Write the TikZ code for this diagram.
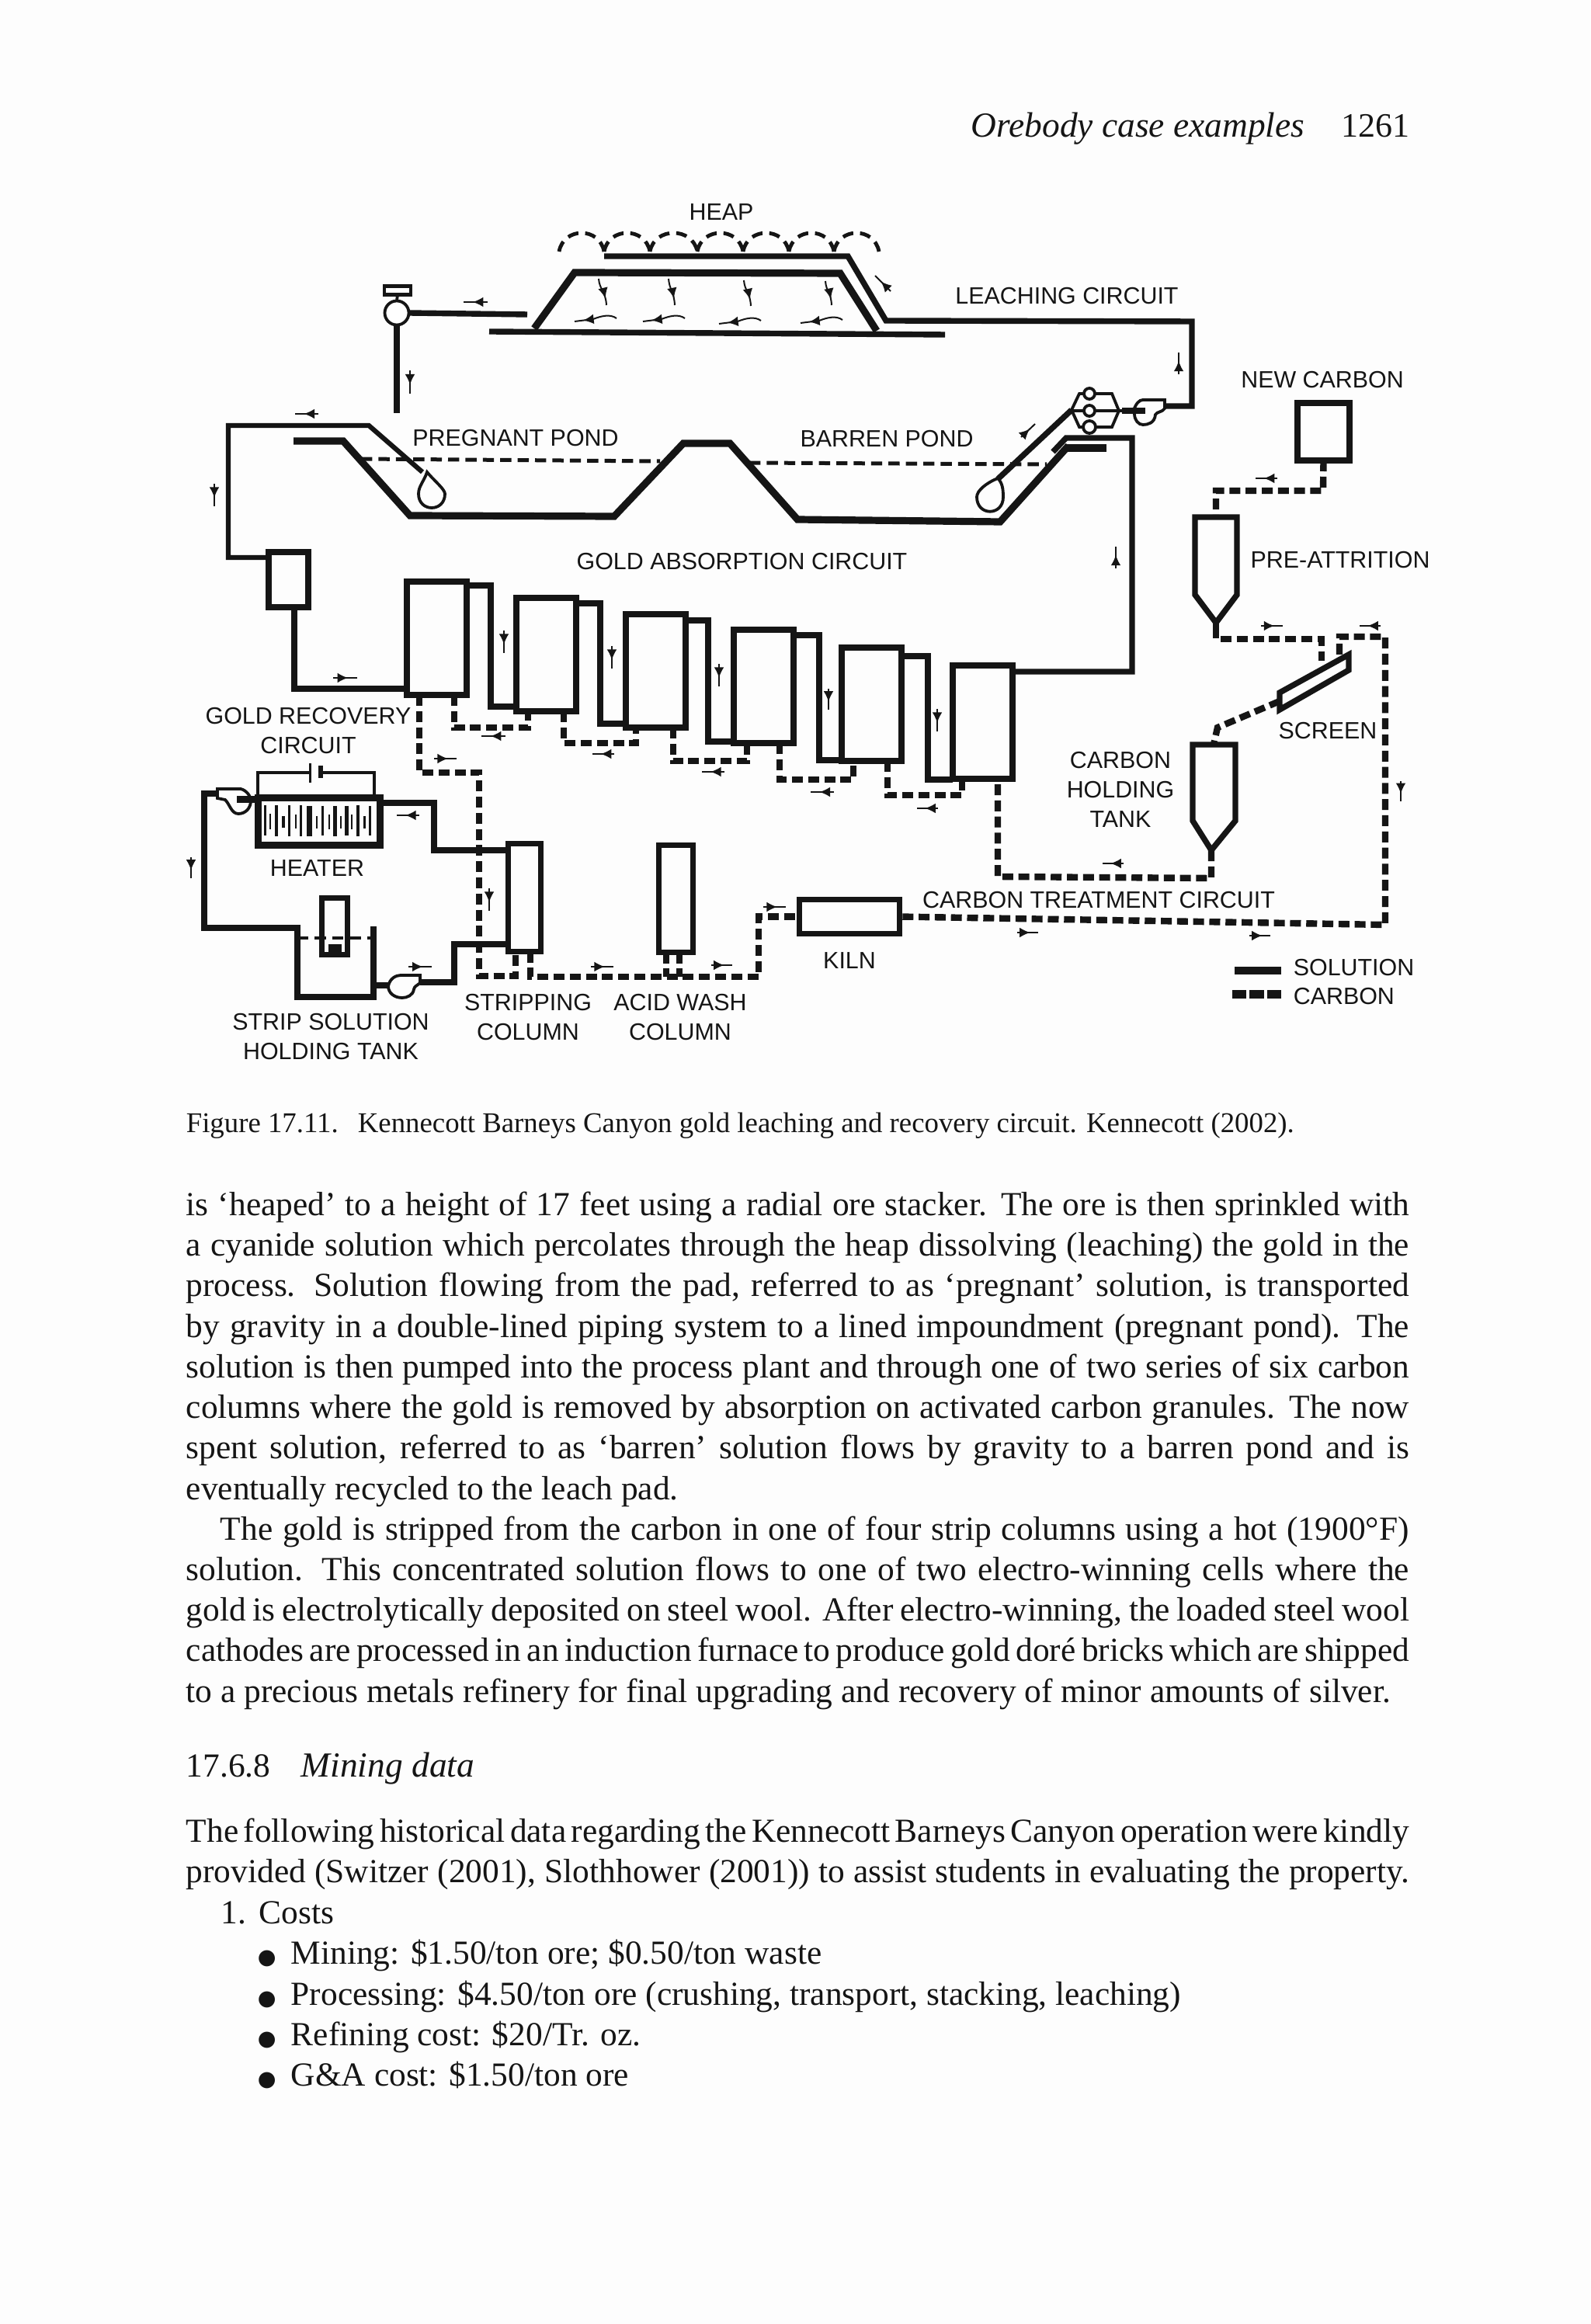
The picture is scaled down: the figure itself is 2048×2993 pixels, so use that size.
\documentclass[tikz,border=0pt]{standalone}
\usepackage{fontspec}
\setmainfont{Liberation Serif}
\setsansfont{Liberation Sans}
\newfontfamily\dotfont{DejaVu Sans}
\usetikzlibrary{arrows.meta,decorations.markings}
\definecolor{ink}{HTML}{151515}
\definecolor{paper}{HTML}{FDFDFD}
\newcommand{\fitline}[2]{\makebox[#1][s]{\spaceskip=.25em plus .4em minus .2em\relax#2}}
\newcommand{\bigdot}{{\dotfont\fontsize{6.8}{13}\selectfont ●}}
\tikzset{
  solution/.style={draw=ink,line width=1.85pt},
  carbon/.style={draw=ink,line width=2.1pt,dash pattern=on 3.5pt off 1.7pt},
  heapline/.style={draw=ink,line width=2.3pt},
  spray/.style={draw=ink,line width=1.2pt,dash pattern=on 3.5pt off 2.2pt},
  pondlevel/.style={draw=ink,line width=1.25pt,dash pattern=on 3.6pt off 2pt},
  pumpline/.style={draw=ink,line width=.95pt},
  tank/.style={draw=ink,line width=#1,inner sep=0,outer sep=0},
  tank/.default=2pt,
  tanksize/.style 2 args={minimum width=#1*.25pt,minimum height=#2*.25pt},
  valve/.style={circle,draw=ink,line width=.95pt,fill=white,inner sep=0,outer sep=0,minimum size=#1*.25pt},
  flowmark/.style={draw=ink,line width=.5pt,postaction={decorate},
    decoration={markings,mark=at position #1 with {\arrow[ink]{Latex[length=3.4pt,width=3.2pt]}}}},
  flowmark/.default=.62,
  lbl/.style={inner sep=0,text=ink,yshift=-.35pt,font=\sffamily\fontsize{7.6}{9.5}\selectfont,align=center},
  bodyline/.style={anchor=base west,inner sep=0,text=ink,font=\fontsize{10.85}{13}\selectfont},
  italicline/.style={bodyline,font=\fontsize{11.35}{13}\selectfont\itshape},
}
\begin{document}
\begin{tikzpicture}[x=.25pt,y=-.25pt]
  \useasboundingbox (0,0) rectangle (2048,2993);
  \fill[paper] (0,0) rectangle (2048,2993);

  \node[italicline] (running) at (1250,177) {Orebody case examples};
  \node[bodyline,font=\fontsize{11}{13}\selectfont,anchor=base east] (folio) at (1816,177) {1261};

  \foreach \a/\b in {720/778,778/837,837/898,898/957,957/1016,1016/1074,1074/1132}
    \draw[spray] (\a,324) .. controls (\a+6,292) and (\b-6,292) .. (\b,324);
  \draw[solution] (778,330) -- (1092,330) -- (1141,413) -- (1535,414) -- (1535,523) -- (1500,523);
  \draw[heapline] (688,423) -- (740,351) -- (1082,352) -- (1129,426);
  \draw[solution] (630,427) -- (1217,431);
  \foreach \ax/\ay/\bx/\by in {771/359/781/393,861/359/869/393,958/361/967/394,1063/362/1071/393}
    \draw[flowmark=.75] (\ax,\ay) .. controls (\ax+1,\ay+14) and (\bx-1,\by-18) .. (\bx,\by);
  \foreach \x/\y in {794/410,882/410,980/413,1085/412}
    \draw[flowmark=.8] (\x,\y) .. controls (\x-8,\y-6) and (\x-20,\y-3) .. (\x-30,\y+1) -- (\x-54,\y+4);

  \node[valve=31] (inlet) at (511,403) {};
  \node[tank=1.1pt,tanksize={34}{11},fill=white] (gauge) at (512,374) {};
  \draw[pumpline] (gauge.south) -- (inlet.north);
  \draw[solution] (inlet.east) -- (679,405);
  \draw[solution] (inlet.south) -- (511,532);

  \node[tank,tanksize={51}{71}] (goldbox) at (371.5,746.5) {};
  \draw[solution,line width=1.55pt] (goldbox.west |- 0,718) -- (294,718) -- (294,548) -- (475,548) -- (544,608);
  \draw[pumpline] (550,608) .. controls (558,618) and (573,630) .. (573,636)
    .. controls (573,660) and (539,660) .. (539,636) .. controls (539,626) and (546,620) .. (550,608) -- cycle;
  \draw[heapline] (378,568) -- (442,568) -- (528,664) -- (791,665) -- (880,571) -- (940,571)
    -- (1027,669) -- (1288,672) -- (1376,574);
  \draw[heapline] (1374,577) -- (1425,577);
  \draw[pondlevel] (465,591) -- (850,594);
  \draw[pondlevel] (965,596) -- (1348,598);

  \draw[pumpline] (1285,616) .. controls (1291,622) and (1292,630) .. (1292,640)
    .. controls (1292,665) and (1258,665) .. (1258,640) .. controls (1258,632) and (1270,622) .. (1285,616) -- cycle;
  \draw[solution] (1285,617) -- (1380,528);
  \draw[pumpline] (1380,528) -- (1390,507) -- (1432,507) -- (1441,529) -- (1432,550) -- (1390,550) -- cycle;
  \draw[draw=ink,line width=1.2pt] (1380,529) -- (1445,529);
  \draw[solution] (1445,529) -- (1475,529);
  \node[valve=14] (branch1) at (1403,507) {};
  \node[valve=14] (branch2) at (1403,529) {};
  \node[valve=16] (branch3) at (1403,550) {};
  \draw[pumpline] (1460,528) .. controls (1463,520) and (1467,515) .. (1472,515) -- (1500,515) -- (1500,526)
    .. controls (1497,531) and (1490,530) .. (1488,534) .. controls (1487,545) and (1478,547) .. (1472,547)
    .. controls (1466,547) and (1461,541) .. (1461,533) -- cycle;

  \foreach \name/\cx/\cy in {col1/562/822,col2/703/843.5,col3/844/864,col4/983.5/884.5,col5/1122.5/907.5,col6/1265/930.5}
    \node[tank,tanksize={77}{146}] (\name) at (\cx,\cy) {};
  \draw[solution] (379,0 |- goldbox.south) |- (col1.west |- 0,887);
  \foreach \a/\b/\x/\ya/\yb in {col1/col2/632/754/910,col2/col3/773/777/932,col3/col4/912/799/955,col4/col5/1055/818/979,col5/col6/1195/845/1004}
    \draw[solution] (\a.east |- 0,\ya) -- (\x,\ya) -- (\x,\yb) -- (\b.west |- 0,\yb);
  \draw[solution] (col6.east |- 0,865) -- (1458,865) -- (1458,564) -- (1373,564) -- (1356,582);

  \foreach \a/\b/\ax/\bx/\y in {col1/col2/585/680/937,col2/col3/726/819/957,col3/col4/867/962/980,col4/col5/1004/1099/1004,col5/col6/1143/1239/1024}
    \draw[carbon] (\ax,0 |- \a.south) |- (\bx,\y) -- (\bx,0 |- \b.south);

  \node[tank=2.25pt,tanksize={157}{61}] (heater) at (410.5,1058) {};
  \foreach \x/\ya/\yb/\w in {341.7/1037/1076/2.7,348.3/1048/1068/2,356/1037/1077/4,365/1051/1066/4,372.7/1037/1077/2.7,381/1049/1067/2,387.3/1037/1077/2.7,398.3/1038/1077/6.7,408.3/1051/1067/2,415.7/1038/1076/2.7,424/1049/1068/2.7,431.7/1038/1077/5.3,439.3/1051/1067/2,446.7/1038/1076/5.3,453.3/1049/1068/2,460.7/1037/1077/4,469.3/1051/1067/3.3,476.7/1038/1076/2.7}
    \draw[draw=ink,line width=\w*.25pt] (\x,\ya) -- (\x,\yb);
  \draw[draw=ink,line width=1.1pt] (heater.north west) |- (399,995);
  \draw[draw=ink,line width=1.1pt] (413,995) -| (482,0 |- heater.north);
  \draw[draw=ink,line width=.75pt] (399,983) -- (399,1008);
  \draw[draw=ink,line width=1.5pt] (413,986) -- (413,1002);
  \draw[pumpline] (280,1016) -- (310,1016) .. controls (318,1018) and (323,1026) .. (323,1031)
    .. controls (323,1041) and (316,1048) .. (307,1048) .. controls (298,1048) and (296,1036) .. (290,1030)
    -- (280,1028) -- cycle;
  \draw[draw=ink,line width=2.25pt] (305,1030) -- (heater.west |- 0,1030);

  \node[tank=1.85pt,tanksize={42}{139}] (stripcol) at (675.5,1156) {};
  \node[tank=1.85pt,tanksize={44}{138}] (acidcol) at (870.5,1157.5) {};
  \node[tank=1.85pt,tanksize={129}{44}] (kiln) at (1094,1180.5) {};
  \node[tank=1.85pt,tanksize={33}{73}] (stripbox) at (431,1193) {};
  \fill[ink] (423,1216) rectangle (440,1233);

  \draw[solution] (heater.east |- 0,1034) -- (559,1034) -- (559,1095) -- (stripcol.west |- 0,1095);
  \draw[solution] (280,1022) -- (263,1022) -- (263,1195) -- (383,1195) -- (383,1284) -- (481,1284) -- (481,1193);
  \draw[pondlevel,line width=1.1pt] (383,1208) -- (480,1208);
  \draw[solution] (481,1269) -- (500,1269);
  \draw[pumpline] (500,1270) .. controls (502,1260) and (510,1256) .. (516,1256) -- (541,1256) -- (541,1266)
    .. controls (536,1270) and (534,1270) .. (533,1274) .. controls (532,1282) and (524,1285) .. (518,1285)
    .. controls (508,1285) and (500,1279) .. (500,1270) -- cycle;
  \draw[solution] (541,1265) -- (585,1265) -- (585,1216) -- (stripcol.west |- 0,1216);

  \draw[carbon] (540,0 |- col1.south) |- (617,995) |- (664,1257) -- (664,0 |- stripcol.south);
  \draw[carbon] (683,0 |- stripcol.south) |- (977,1258) |- (kiln.west);
  \draw[carbon] (858,0 |- acidcol.south) -- (858,1258);
  \draw[carbon] (875,0 |- acidcol.south) -- (875,1258);

  \node[tank,tanksize={67}{74}] (newcarbon) at (1704.5,556) {};
  \coordinate (pretop) at (1566,666);
  \coordinate (pretip) at (1566,802);
  \draw[tank=1.85pt] (1539,666) -- (1593,666) -- (1593,766) -- (pretip) -- (1539,766) -- cycle;
  \draw[carbon] (newcarbon.south) -- (1704,632) -- (1566,632) -- (pretop);
  \draw[solution,line width=2pt] (pretip) -- (1566,822);
  \draw[carbon] (1572,823) -- (1702,823) -- (1702,851);
  \coordinate (screenlow) at (1648,903);
  \draw[tank=1.85pt] (1648,892) -- (1737,843) -- (1737,863) -- (1648,914) -- cycle;
  \draw[carbon] (1725,843) -- (1725,820) -- (1784,820) -- (1784,1191) -- (kiln.east);

  \coordinate (holdtop) at (1563,959);
  \coordinate (holdtip) at (1560,1095);
  \draw[tank=1.85pt] (1536,959) -- (1591,959) -- (1591,1057) -- (holdtip) -- (1536,1057) -- cycle;
  \draw[carbon] (screenlow) -- (1568,937) -- (holdtop);
  \draw[carbon] (holdtip) -- (1560,1131) -- (1285,1129) -- (1285,0 |- col6.south);

  \foreach \ax/\ay/\bx/\by in {628/389/597/389,528/477/528/507,410/533/380/533,276/623/276/652,1518/482/1518/454,1437/732/1437/704,1315/563/1333/546,1147/375/1127/355,1645/616/1617/616,1624/806/1652/806,1778/806/1751/806,1804/1006/1804/1032,1310/1201/1337/1201,1609/1205/1636/1205,1447/1112/1420/1112,429/873/460/873,649/812/649/841,788/832/788/861,926/855/926/884,1067/887/1067/914,1207/913/1207/942,559/977/588/977,651/948/620/948,791/971/763/971,933/994/904/994,1074/1020/1044/1020,1208/1041/1181/1041,540/1050/511/1050,246/1104/246/1131,526/1245/556/1245,630/1144/630/1173,761/1245/790/1245,916/1243/943/1243,983/1168/1012/1168}
    \draw[flowmark] (\ax,\ay) -- (\bx,\by);

  \node[lbl] (heap) at (929,272) {HEAP};
  \node[lbl] (leaching) at (1374,380) {LEACHING CIRCUIT};
  \node[lbl] (newlabel) at (1703,488) {NEW CARBON};
  \node[lbl] (pregnant) at (664,563) {PREGNANT POND};
  \node[lbl] (barren) at (1142,564) {BARREN POND};
  \node[lbl] (absorption) at (955.5,722) {GOLD ABSORPTION CIRCUIT};
  \node[lbl] (attrition) at (1726,720) {PRE-ATTRITION};
  \node[lbl] (recovery) at (397,940) {GOLD RECOVERY\\CIRCUIT};
  \node[lbl] (screen) at (1710,940) {SCREEN};
  \node[lbl] (holding) at (1443,1015) {CARBON\\HOLDING\\TANK};
  \node[lbl] (heatlabel) at (408.5,1117) {HEATER};
  \node[lbl] (treatment) at (1415,1158) {CARBON TREATMENT CIRCUIT};
  \node[lbl] (kilnlabel) at (1094,1236) {KILN};
  \node[lbl] (striptank) at (426,1334) {STRIP SOLUTION\\HOLDING TANK};
  \node[lbl] (stripping) at (680,1309) {STRIPPING\\COLUMN};
  \node[lbl] (acidwash) at (876,1309) {ACID WASH\\COLUMN};
  \node[lbl,anchor=west] (legsolution) at (1665,1245) {SOLUTION};
  \node[lbl,anchor=west] (legcarbon) at (1665,1282) {CARBON};
  \draw[solution,line width=2.5pt] (1590,1250) -- (1650,1250);
  \draw[carbon,line width=2.75pt,dash pattern=on 4.6pt off 1pt] (1587,1280) -- (1650,1280);

  \node[bodyline,font=\fontsize{9.2}{11}\selectfont] (caption) at (239,1458)
    {Figure 17.11.\hspace{6.3pt}Kennecott Barneys Canyon gold leaching and recovery circuit. Kennecott (2002).};

  \foreach \n/\y/\t in {1/1565/{is ‘heaped’ to a height of 17 feet using a radial ore stacker. The ore is then sprinkled with},
    2/1617.3/{a cyanide solution which percolates through the heap dissolving (leaching) the gold in the},
    3/1669.6/{process. Solution flowing from the pad, referred to as ‘pregnant’ solution, is transported},
    4/1722/{by gravity in a double-lined piping system to a lined impoundment (pregnant pond). The},
    5/1774.2/{solution is then pumped into the process plant and through one of two series of six carbon},
    6/1826.5/{columns where the gold is removed by absorption on activated carbon granules. The now},
    7/1878.8/{spent solution, referred to as ‘barren’ solution flows by gravity to a barren pond and is},
    10/2035.4/{solution. This concentrated solution flows to one of two electro-winning cells where the},
    11/2087.6/{gold is electrolytically deposited on steel wool. After electro-winning, the loaded steel wool},
    12/2139.8/{cathodes are processed in an induction furnace to produce gold doré bricks which are shipped},
    14/2372/{The following historical data regarding the Kennecott Barneys Canyon operation were kindly},
    15/2424/{provided (Switzer (2001), Slothhower (2001)) to assist students in evaluating the property.}}
    \node[bodyline] (line\n) at (239,\y) {\fitline{393.8pt}{\t}};
  \node[bodyline] (line8) at (239,1931) {eventually recycled to the leach pad.};
  \node[bodyline] (line9) at (283,1983) {\fitline{382.7pt}{The gold is stripped from the carbon in one of four strip columns using a hot (1900°F)}};
  \node[bodyline] (line13) at (239,2192) {to a precious metals refinery for final upgrading and recovery of minor amounts of silver.};
  \node[bodyline] (secnum) at (239,2288) {17.6.8};
  \node[italicline] (sectitle) at (387,2288) {Mining data};
  \node[bodyline] (itemnum) at (284,2477) {1.};
  \node[bodyline] (itemtext) at (333,2477) {Costs};
  \foreach \n/\y/\t in {1/2529/{Mining: \$1.50/ton ore; \$0.50/ton waste},
    2/2582/{Processing: \$4.50/ton ore (crushing, transport, stacking, leaching)},
    3/2634/{Refining cost: \$20/Tr. oz.},
    4/2686/{G\&A cost: \$1.50/ton ore}}
    \node[bodyline] (bullet\n) at (331,\y) {\makebox[10.75pt][l]{\bigdot}\t};
\end{tikzpicture}
\end{document}
